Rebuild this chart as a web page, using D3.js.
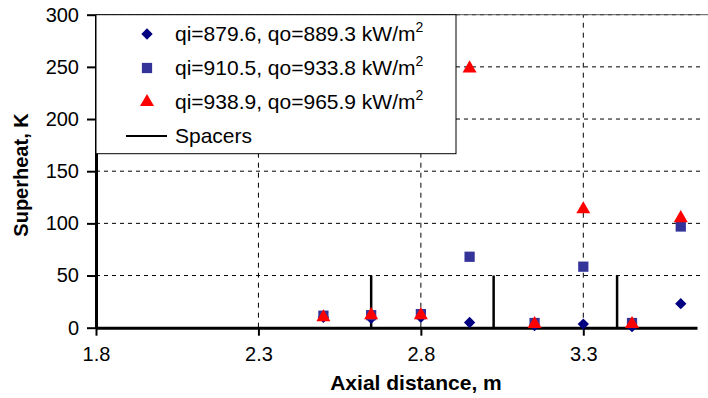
<!DOCTYPE html>
<html>
<head>
<meta charset="utf-8">
<script src="https://cdn.jsdelivr.net/npm/d3@7"></script>
<style>
  body { margin: 0; background: #fff; }
  text { font-family: "Liberation Sans", Arial, Helvetica, sans-serif; fill: #000; }
</style>
</head>
<body>
<div id="canvas"></div>
<script>
// data
let positions = [2.5, 2.647, 2.8, 2.95, 3.15, 3.3, 3.45, 3.6]
let series1 = [10, 9, 10, 5, 2, 3.5, 1, 23]          // qi=879.6
let series2 = [11.5, 12, 13, 68, 4.5, 58.5, 4.5, 97]  // qi=910.5
let series3 = [10, 12, 12, 248.5, 3.5, 113.5, 3.5, 105] // qi=938.9
let spacerPos = [2.647, 3.024, 3.404]
let spacerHeight = 50
let xTicks = [1.8, 2.3, 2.8, 3.3]
let yTicks = [0, 50, 100, 150, 200, 250, 300]
let legendLabels = ["qi=879.6, qo=889.3 kW/m", "qi=910.5, qo=933.8 kW/m", "qi=938.9, qo=965.9 kW/m", "Spacers"]

// setup canvas
let width = 708
let height = 398

let svg = d3.select("#canvas").append("svg")
    .attr("width", width)
    .attr("height", height)

let x = d3.scaleLinear().domain([1.8, 3.65]).range([96, 697])
let y = d3.scaleLinear().domain([0, 300]).range([327.7, 14.7])

// gridlines
let grid = svg.append("g").attr("class", "grid")
grid.selectAll("line.h")
    .data(yTicks.filter(d => d > 0))
    .enter().append("line")
    .attr("x1", x(1.8)).attr("x2", 703)
    .attr("y1", d => y(d)).attr("y2", d => y(d))
    .attr("stroke", "#000").attr("stroke-width", 1)
    .attr("stroke-dasharray", "4,4")
grid.selectAll("line.v")
    .data(xTicks.filter(d => d > 1.8))
    .enter().append("line")
    .attr("x1", d => x(d)).attr("x2", d => x(d))
    .attr("y1", y(0)).attr("y2", y(300))
    .attr("stroke", "#000").attr("stroke-width", 1)
    .attr("stroke-dasharray", "5,5")

// thin top border
svg.append("line")
    .attr("x1", x(1.8)).attr("x2", width)
    .attr("y1", y(300)).attr("y2", y(300))
    .attr("stroke", "#555").attr("stroke-width", 1)

// spacers
svg.append("g").selectAll("line")
    .data(spacerPos)
    .enter().append("line")
    .attr("x1", d => x(d)).attr("x2", d => x(d))
    .attr("y1", y(0)).attr("y2", y(spacerHeight))
    .attr("stroke", "#000").attr("stroke-width", 2.5)

// axes
let yAxis = svg.append("g")
    .attr("transform", "translate(" + x(1.8) + ",0)")
    .call(d3.axisLeft(y).tickValues(yTicks).tickSize(9).tickSizeOuter(0).tickPadding(8))
let xAxis = svg.append("g")
    .attr("transform", "translate(0," + y(0) + ")")
    .call(d3.axisBottom(x).tickValues(xTicks).tickFormat(d3.format(".1f")).tickSize(8).tickSizeOuter(0).tickPadding(11))

for (let ax of [xAxis, yAxis]) {
    ax.select(".domain").attr("stroke", "#000").attr("stroke-width", 3)
    ax.selectAll(".tick line").attr("stroke", "#000").attr("stroke-width", 2)
    ax.selectAll(".tick text")
        .attr("font-size", 20)
        .attr("font-family", "Liberation Sans, Arial, sans-serif")
        .attr("fill", "#000")
}

// axis titles
svg.append("text")
    .attr("x", 416).attr("y", 390)
    .attr("text-anchor", "middle")
    .attr("font-size", 21).attr("font-weight", "bold")
    .text("Axial distance, m")
svg.append("text")
    .attr("transform", "translate(28,175) rotate(-90)")
    .attr("text-anchor", "middle")
    .attr("font-size", 20).attr("font-weight", "bold")
    .text("Superheat, K")

// markers
let diamond = d3.symbol().type(d3.symbolSquare).size(64)
let square = d3.symbol().type(d3.symbolSquare).size(105)
let triangle = d3.symbol().type(d3.symbolTriangle).size(85)

function drawSeries(values, path, fill, rot) {
    svg.append("g").selectAll("path")
        .data(values)
        .enter().append("path")
        .attr("d", path)
        .attr("fill", fill)
        .attr("transform", (d, i) => "translate(" + x(positions[i]) + "," + y(d) + ") rotate(" + rot + ")")
}
drawSeries(series1, diamond, "#000080", 45)
drawSeries(series2, square, "#333399", 0)
drawSeries(series3, triangle, "#ff0000", 0)

// legend
let legend = svg.append("g")
legend.append("rect")
    .attr("x", x(1.8)).attr("y", y(300))
    .attr("width", 360).attr("height", 139)
    .attr("fill", "#fff").attr("stroke", "#000").attr("stroke-width", 1)

let rowY = [34, 68, 102, 136]
let legendMarks = [[diamond, "#000080", 45], [square, "#333399", 0], [triangle, "#ff0000", 0]]
legendMarks.forEach((m, i) => {
    legend.append("path")
        .attr("d", m[0])
        .attr("fill", m[1])
        .attr("transform", "translate(147," + rowY[i] + ") rotate(" + m[2] + ")")
})
legend.append("line")
    .attr("x1", 126).attr("x2", 167)
    .attr("y1", rowY[3]).attr("y2", rowY[3])
    .attr("stroke", "#000").attr("stroke-width", 2)

legendLabels.forEach((t, i) => {
    let txt = legend.append("text")
        .attr("x", 175).attr("y", rowY[i] + 7)
        .attr("font-size", 21)
        .text(t)
    if (i < 3) {
        txt.append("tspan")
            .attr("dy", -9)
            .attr("font-size", 14)
            .text("2")
    }
})
</script>
</body>
</html>
